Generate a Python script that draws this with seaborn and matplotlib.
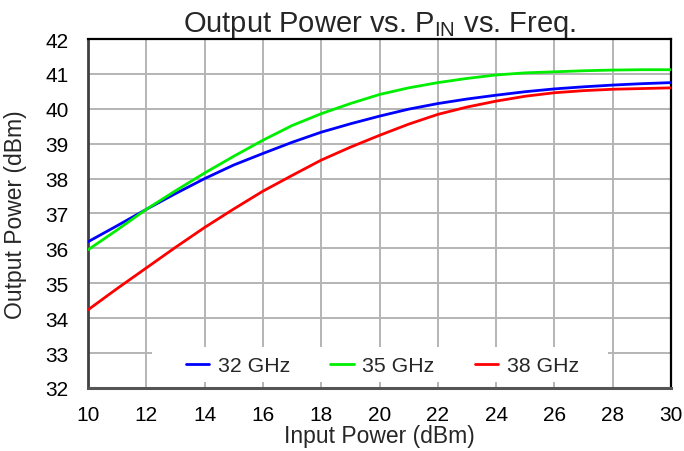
import numpy as np
import pandas as pd
import seaborn as sns
import matplotlib
matplotlib.use("Agg")
import matplotlib.pyplot as plt
from matplotlib.patches import Rectangle

# Output power (dBm) versus input power (dBm) at three frequencies
pin_dbm = [10, 11, 12, 13, 14, 15, 16, 17, 18, 19, 20,
           21, 22, 23, 24, 25, 26, 27, 28, 29, 30]
pout_32ghz = [36.19, 36.65, 37.12, 37.57, 38.00, 38.39, 38.72, 39.04, 39.33, 39.57, 39.79,
              39.99, 40.15, 40.28, 40.39, 40.49, 40.57, 40.63, 40.68, 40.72, 40.75]
pout_35ghz = [35.96, 36.53, 37.12, 37.65, 38.16, 38.64, 39.10, 39.52, 39.86, 40.15, 40.41,
              40.60, 40.75, 40.87, 40.97, 41.03, 41.06, 41.09, 41.11, 41.12, 41.12]
pout_38ghz = [34.24, 34.85, 35.44, 36.03, 36.60, 37.13, 37.64, 38.09, 38.53, 38.90, 39.24,
              39.56, 39.84, 40.05, 40.22, 40.36, 40.46, 40.52, 40.56, 40.58, 40.60]
series_names = ["32 GHz", "35 GHz", "38 GHz"]
series_colors = ["#0000ff", "#00ee00", "#ff0000"]
x_ticks = list(range(10, 31, 2))
y_ticks = list(range(32, 43, 1))

frames = []
for name, vals in zip(series_names, [pout_32ghz, pout_35ghz, pout_38ghz]):
    frames.append(pd.DataFrame({"Pin": pin_dbm, "Pout": vals, "Freq": name}))
df = pd.concat(frames, ignore_index=True)

sns.set_style("white")
plt.rcParams["font.family"] = ["Liberation Sans", "DejaVu Sans"]
plt.rcParams["mathtext.fontset"] = "custom"
plt.rcParams["mathtext.rm"] = "Liberation Sans"
plt.rcParams["mathtext.it"] = "Liberation Sans:italic"

fig = plt.figure(figsize=(6.84, 4.52), dpi=100)
ax = fig.add_axes([0.1287, 0.1394, 0.8523, 0.7721])

sns.lineplot(data=df, x="Pin", y="Pout", hue="Freq", palette=dict(zip(series_names, series_colors)),
             linewidth=2.0, ax=ax, legend=True, zorder=3)

ax.set_xlim(10, 30)
ax.set_ylim(32, 42)
ax.set_xticks(x_ticks)
ax.set_yticks(y_ticks)
ax.set_axisbelow(True)
ax.grid(True, color="#b4b4b4", linewidth=1.4)
ax.tick_params(axis="both", length=0, labelsize=15, colors="black")
ax.tick_params(axis="y", pad=14)
ax.tick_params(axis="x", pad=12)

for side, col, lw in [("left", "#404040", 2.0), ("bottom", "#555555", 2.2),
                      ("top", "black", 1.6), ("right", "black", 1.6)]:
    ax.spines[side].set_visible(True)
    ax.spines[side].set_color(col)
    ax.spines[side].set_linewidth(lw)

ax.set_title("Output Power vs. P$_{\\mathrm{IN}}$ vs. Freq.", fontsize=21, pad=6)
ax.set_xlabel("Input Power (dBm)", fontsize=16.5)
ax.set_ylabel("Output Power (dBm)", fontsize=16.5)
ax.xaxis.set_label_coords(0.5, -0.1375)
ax.xaxis.label.set_va("center")
ax.yaxis.set_label_coords(-0.125, 0.5)
ax.yaxis.label.set_va("center")

# white panel behind the legend hides the grid there
ax.add_patch(Rectangle((0.11, 0.017), 0.782, 0.10, transform=ax.transAxes,
                       facecolor="white", edgecolor="none", zorder=1))
handles, labels = ax.get_legend_handles_labels()
ax.legend(handles, labels, loc="lower center", bbox_to_anchor=(0.505, 0.012), ncol=3,
          frameon=False, fontsize=15.3, handlelength=1.1, handletextpad=0.4,
          columnspacing=1.9, borderaxespad=0)

fig.savefig("out.png", dpi=100)
